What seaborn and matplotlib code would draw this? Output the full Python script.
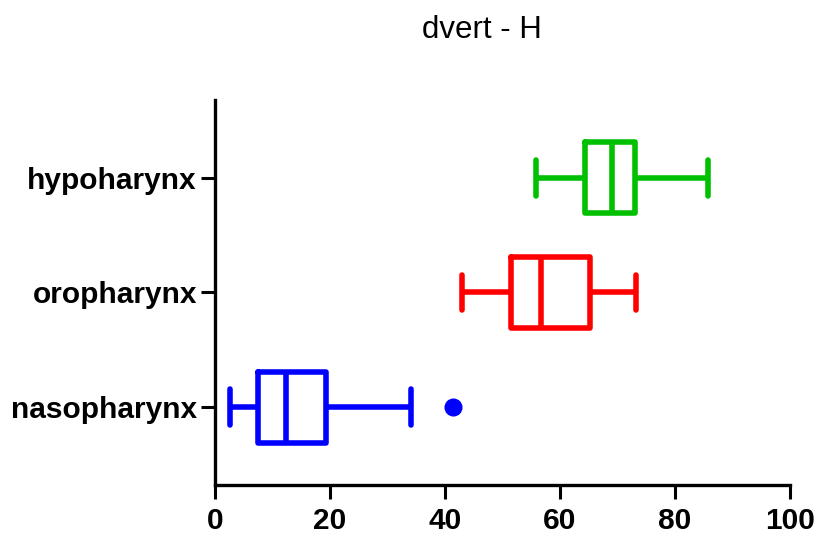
import matplotlib
matplotlib.use("Agg")
import matplotlib.pyplot as plt
import seaborn as sns
import pandas as pd

categories = ["hypoharynx", "oropharynx", "nasopharynx"]
hypoharynx = [55.9, 64.3, 69.0, 73.0, 85.8]
oropharynx = [43.0, 51.5, 56.7, 65.2, 73.2]
nasopharynx = [2.6, 5.0, 7.4, 10.0, 12.3, 15.0, 19.3, 34.0, 41.4]
colors = {"hypoharynx": "#00C000", "oropharynx": "#FF0000", "nasopharynx": "#0000FF"}
xticks = [0, 20, 40, 60, 80, 100]

rows = []
for name, vals in zip(categories, [hypoharynx, oropharynx, nasopharynx]):
    for v in vals:
        rows.append({"site": name, "value": v})
df = pd.DataFrame(rows)

sns.set_style("ticks")
plt.rcParams["font.family"] = ["Liberation Sans", "DejaVu Sans"]
plt.rcParams["text.color"] = "black"
plt.rcParams["xtick.color"] = "black"
plt.rcParams["ytick.color"] = "black"

fig = plt.figure(figsize=(8.17, 5.35), dpi=100)
ax = fig.add_axes([215/817, 1-485/535, (790-215)/817, (485-100)/535])

sns.boxplot(data=df, x="value", y="site", hue="site", order=categories,
            palette=colors, fill=False, width=0.62, linewidth=4.0,
            legend=False, ax=ax,
            flierprops=dict(marker="o", markersize=12))

for line in ax.lines:
    if line.get_marker() == "o":
        line.set_markerfacecolor(colors["nasopharynx"])
        line.set_markeredgecolor(colors["nasopharynx"])

ax.set_xlim(0, 100)
ax.set_ylim(2.68, -0.68)
ax.set_xticks(xticks)
ax.set_xlabel("")
ax.set_ylabel("")
for s in ["top", "right"]:
    ax.spines[s].set_visible(False)
for s in ["left", "bottom"]:
    ax.spines[s].set_linewidth(2.4)
    ax.spines[s].set_color("black")
ax.tick_params(axis="both", which="major", length=10, width=2.2, color="black",
               labelcolor="black", direction="out", pad=3, labelsize=21.5,
               bottom=True, left=True)
ax.tick_params(axis="x", pad=6)
for lab in ax.get_xticklabels() + ax.get_yticklabels():
    lab.set_fontweight("bold")

fig.text(482/817, 1-30/535, "dvert - H", ha="center", va="center", fontsize=22.5,
         color="black")

fig.savefig("out.png", dpi=100)
